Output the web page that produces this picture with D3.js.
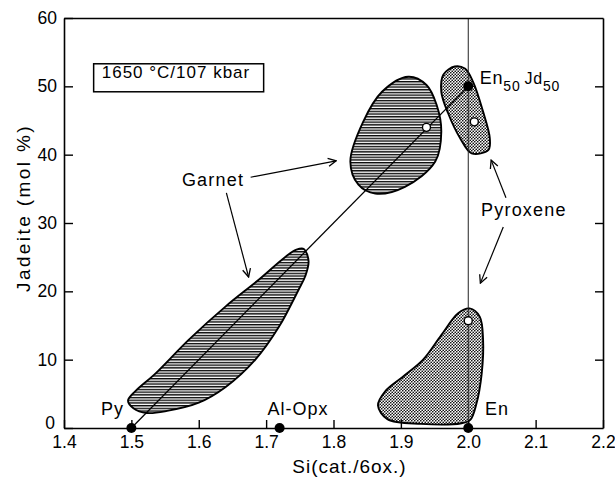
<!DOCTYPE html>
<html><head><meta charset="utf-8">
<script src="https://cdn.jsdelivr.net/npm/d3@7"></script>
<style>
body{margin:0;background:#fff}
svg text{font-family:"Liberation Sans",Arial,sans-serif;fill:#000}
</style>
</head><body>
<svg id="chart" width="615" height="478"></svg>
<script>
// Axis ticks
const xTicks = [1.4, 1.5, 1.6, 1.7, 1.8, 1.9, 2.0, 2.1, 2.2];
const yTicks = [0, 10, 20, 30, 40, 50, 60];

// Phase fields: outlines as [Si, Jadeite mol %]
const garnetLow = [[1.756,26.2],[1.763,24.4],[1.758,22.2],[1.748,20.2],[1.719,14.8],[1.684,10.0],[1.640,6.0],[1.600,3.7],[1.553,2.5],[1.523,2.2],[1.503,2.9],[1.495,4.0],[1.506,5.4],[1.536,8.0],[1.585,12.9],[1.640,17.8],[1.689,21.7],[1.728,25.0],[1.745,26.1]];
const garnetHigh = [[1.911,51.4],[1.938,50.2],[1.953,47.3],[1.960,43.4],[1.951,39.0],[1.906,35.3],[1.862,34.3],[1.837,35.6],[1.825,39.0],[1.844,44.8],[1.872,49.2]];
const pyroxeneHigh = [[1.980,52.9],[1.995,52.6],[2.007,50.7],[2.022,46.3],[2.032,42.4],[2.030,40.7],[2.005,40.2],[1.988,42.4],[1.970,46.1],[1.960,49.2],[1.963,51.7]];
const pyroxeneLow = [[2.002,17.5],[2.017,16.3],[2.022,12.9],[2.020,8.0],[2.012,3.5],[2.003,1.2],[1.990,0.7],[1.930,0.6],[1.880,1.3],[1.866,3.3],[1.877,5.4],[1.903,7.5],[1.933,10.0],[1.960,13.6],[1.985,16.8]];

// End-member compositions (filled) and measured phases (open)
const endMembers = [[1.5,0],[1.72,0],[2.0,0],[2.0,50]];
const measured = [[1.938,44.0],[2.009,44.8],[2.0,15.7]];

// Tie line Py -> En50Jd50 and the En-Jd join
const tieLine = [[1.5,0],[2.0,50]];
const joinLine = [[2.0,0],[2.0,60]];

// Labels and arrows
const endLabels = [{t:"Py",x:1.455,y:1.9},{t:"Al-Opx",x:1.702,y:1.9},{t:"En",x:2.025,y:1.9}];
const arrows = [
  {from:[1.677,36.7], to:[1.804,39.1]},
  {from:[1.641,34.4], to:[1.674,22.1]},
  {from:[2.056,33.7], to:[2.034,39.2]},
  {from:[2.052,29.4], to:[2.018,21.2]}
];
const phaseLabels = [{t:"Garnet",x:1.575,y:36.4},{t:"Pyroxene",x:2.019,y:32.0}];

const W = 615, H = 478;
const m = {l:64, r:12, t:18, b:50};
const svg = d3.select("#chart");
const x = d3.scaleLinear([1.4,2.2],[m.l, W-m.r]);
const y = d3.scaleLinear([0,60],[H-m.b, m.t]);

const defs = svg.append("defs");
const hatch = defs.append("pattern").attr("id","hatch").attr("patternUnits","userSpaceOnUse")
  .attr("width",6).attr("height",2.7);
hatch.append("line").attr("x1",0).attr("x2",6).attr("y1",0.7).attr("y2",0.7)
  .attr("stroke","#000").attr("stroke-width",1.35);
const stip = defs.append("pattern").attr("id","stipple").attr("patternUnits","userSpaceOnUse")
  .attr("width",3).attr("height",3);
stip.append("circle").attr("cx",0.75).attr("cy",0.75).attr("r",0.85).attr("fill","#111");
stip.append("circle").attr("cx",2.25).attr("cy",2.25).attr("r",0.85).attr("fill","#111");

const area = d3.line().x(d=>x(d[0])).y(d=>y(d[1])).curve(d3.curveCatmullRomClosed.alpha(0.5));
const fields = [
  {pts:garnetLow, fill:"url(#hatch)"},
  {pts:garnetHigh, fill:"url(#hatch)"},
  {pts:pyroxeneHigh, fill:"url(#stipple)"},
  {pts:pyroxeneLow, fill:"url(#stipple)"}
];
svg.append("g").selectAll("path").data(fields).join("path")
  .attr("d", d=>area(d.pts)).attr("fill", d=>d.fill)
  .attr("stroke","#000").attr("stroke-width",1.9);

const seg = d3.line().x(d=>x(d[0])).y(d=>y(d[1]));
svg.append("path").attr("d",seg(joinLine)).attr("stroke","#222").attr("stroke-width",1).attr("fill","none");
svg.append("path").attr("d",seg(tieLine)).attr("stroke","#000").attr("stroke-width",1.3).attr("fill","none");

// Axes with inward ticks
const fmt = d3.format(".1f");
const gx = svg.append("g").attr("transform",`translate(0,${y(0)})`)
  .call(d3.axisBottom(x).tickValues(xTicks).tickSizeInner(-8).tickSizeOuter(0).tickPadding(8).tickFormat(d=>fmt(d)));
const gy = svg.append("g").attr("transform",`translate(${x(1.4)},0)`)
  .call(d3.axisLeft(y).tickValues(yTicks).tickSizeInner(-9).tickSizeOuter(0).tickPadding(7));
const gr = svg.append("g").attr("transform",`translate(${x(2.2)},0)`)
  .call(d3.axisRight(y).tickValues(yTicks.slice(1,-1)).tickSizeInner(-8).tickSizeOuter(0).tickFormat(""));
const gt = svg.append("g").attr("transform",`translate(0,${y(60)})`)
  .call(d3.axisTop(x).tickValues([]).tickSizeOuter(0));
[gx,gy,gr,gt].forEach(g=>{
  g.select(".domain").attr("stroke","#000").attr("stroke-width",1.6);
  g.selectAll(".tick line").attr("stroke","#000").attr("stroke-width",1.4);
  g.selectAll(".tick text").attr("font-size",17.5).attr("fill","#000");
});
// the zero label sits just above the corner so it clears the first x label
gy.select(".tick text").attr("dy","0.05em").attr("x",-9);

// Points
svg.append("g").selectAll("circle").data(endMembers).join("circle")
  .attr("cx",d=>x(d[0])).attr("cy",d=>y(d[1])).attr("r",5).attr("fill","#000");
svg.append("g").selectAll("circle").data(measured).join("circle")
  .attr("cx",d=>x(d[0])).attr("cy",d=>y(d[1])).attr("r",4).attr("fill","#fff")
  .attr("stroke","#000").attr("stroke-width",1.4);

// Arrows
defs.append("marker").attr("id","head").attr("viewBox","0 0 10 10").attr("refX",9).attr("refY",5)
  .attr("markerWidth",10).attr("markerHeight",10).attr("markerUnits","userSpaceOnUse").attr("orient","auto")
  .append("path").attr("d","M1,1 L9,5 L1,9").attr("fill","none").attr("stroke","#000").attr("stroke-width",1.3);
svg.append("g").selectAll("line").data(arrows).join("line")
  .attr("x1",d=>x(d.from[0])).attr("y1",d=>y(d.from[1]))
  .attr("x2",d=>x(d.to[0])).attr("y2",d=>y(d.to[1]))
  .attr("stroke","#000").attr("stroke-width",1.2).attr("marker-end","url(#head)");

// Text labels
svg.append("g").selectAll("text").data(phaseLabels).join("text")
  .attr("x",d=>x(d.x)).attr("y",d=>y(d.y)).attr("dy","0.35em")
  .attr("font-size",18).style("letter-spacing","1.2px").text(d=>d.t);
svg.append("g").selectAll("text").data(endLabels).join("text")
  .attr("x",d=>x(d.x)).attr("y",d=>y(d.y))
  .attr("font-size",18).style("letter-spacing","1px").text(d=>d.t);

const enjd = svg.append("text").attr("x",x(2.017)).attr("y",y(50.4)).attr("font-size",18).style("letter-spacing","0.8px");
enjd.append("tspan").text("En");
enjd.append("tspan").attr("font-size",14).attr("dy",7).text("50");
enjd.append("tspan").attr("dx",4).attr("dy",-7).attr("font-size",16).text("Jd");
enjd.append("tspan").attr("font-size",14).attr("dy",7).text("50");

// Run conditions box
const box = svg.append("g");
box.append("rect").attr("x",x(1.444)).attr("y",y(53.3)).attr("width",170).attr("height",28)
  .attr("fill","#fff").attr("stroke","#000").attr("stroke-width",1.5);
box.append("text").attr("x",x(1.456)).attr("y",y(51.2)).attr("font-size",17)
  .style("letter-spacing","1px").text("1650 °C/107 kbar");

// Axis titles
svg.append("text").attr("x",(x(1.4)+x(2.2))/2 + 16).attr("y",H-5).attr("text-anchor","middle")
  .attr("font-size",19).style("letter-spacing","1px").text("Si(cat./6ox.)");
svg.append("text").attr("transform",`translate(30,${y(32.2)}) rotate(-90)`).attr("text-anchor","middle")
  .attr("font-size",19).style("letter-spacing","2.4px").text("Jadeite (mol %)");
</script>
</body></html>
